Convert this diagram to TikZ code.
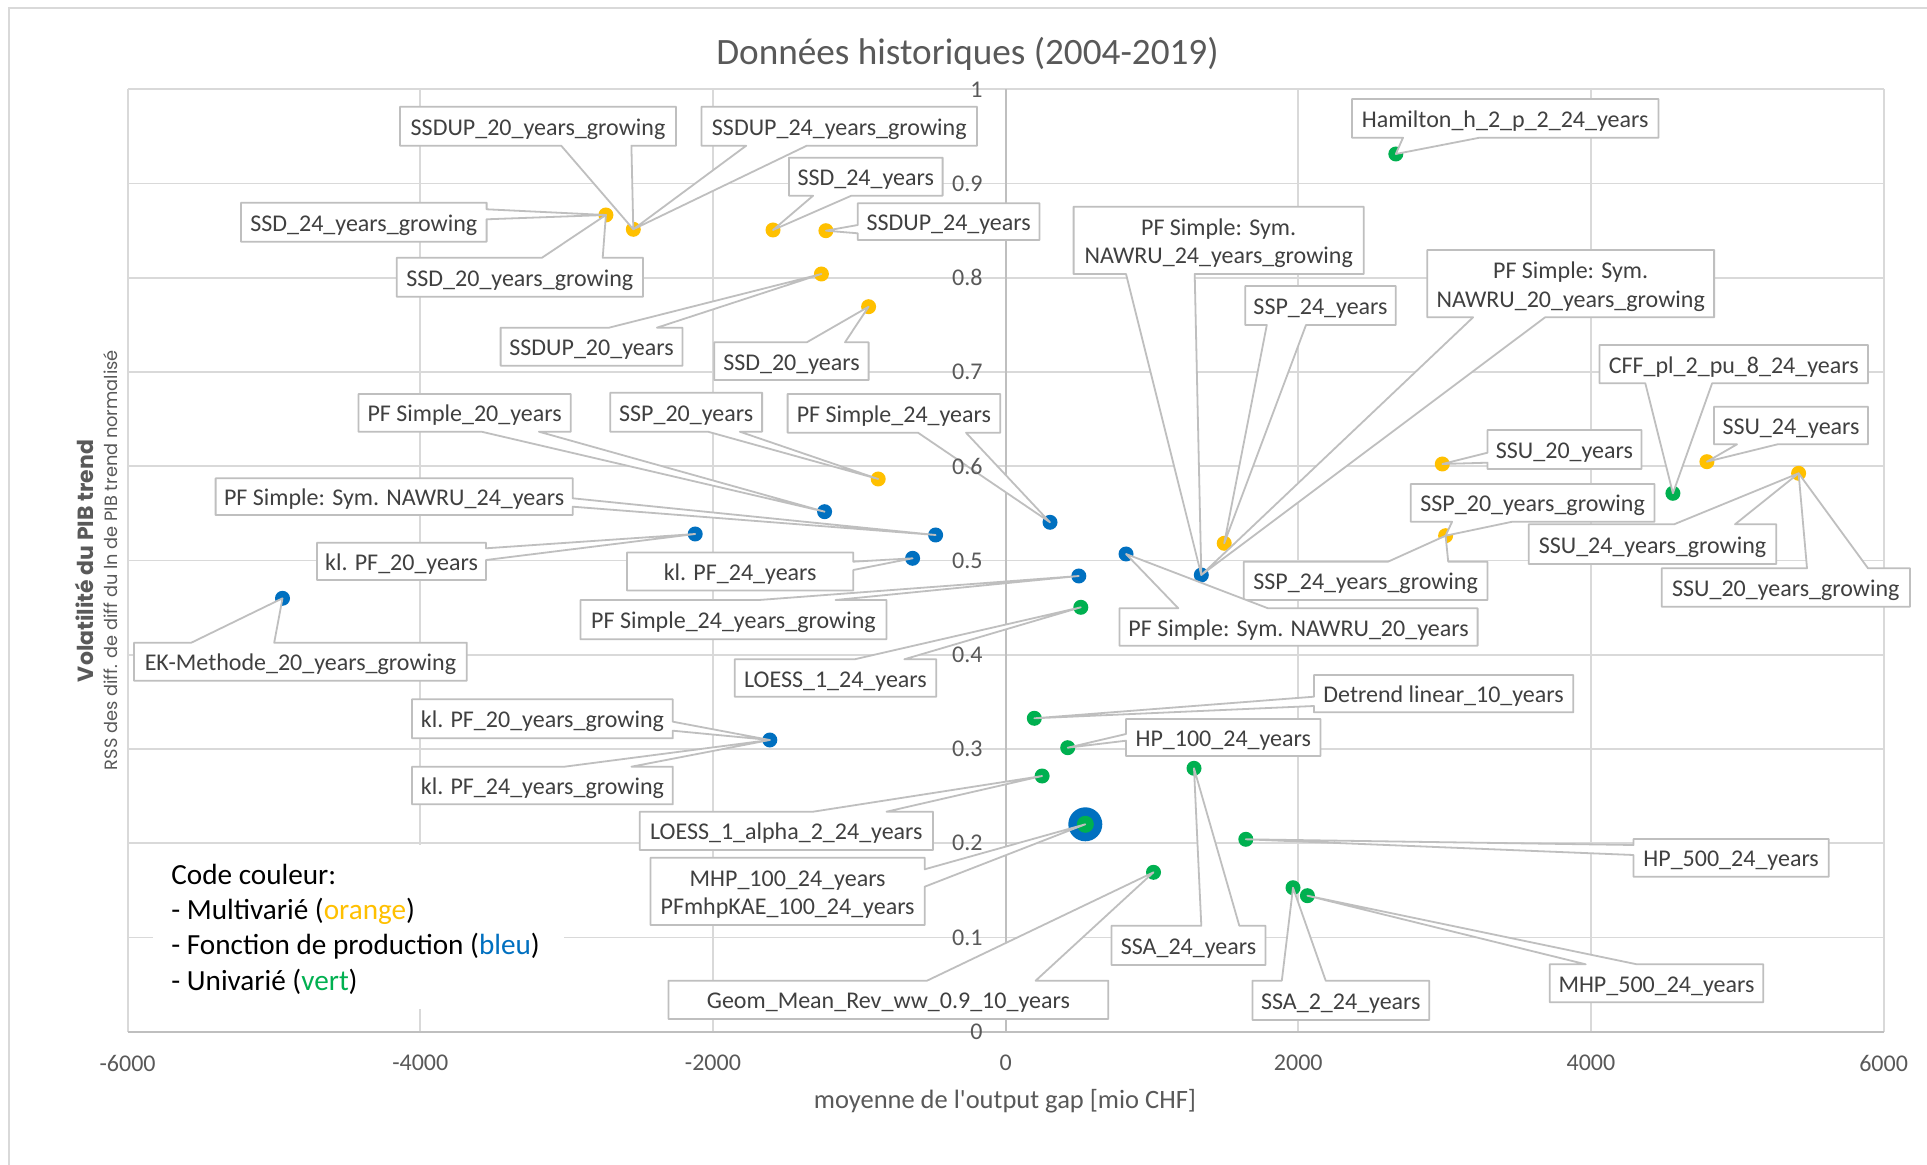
\documentclass[tikz,border=0pt]{standalone}
\usepackage{fontspec}
\usepackage{graphicx}
\setmainfont{Carlito}
\newfontfamily\popp{Poppins}
\definecolor{orng}{HTML}{FFC000}
\definecolor{blu}{HTML}{0070C0}
\definecolor{grn}{HTML}{00B050}
\definecolor{gridc}{HTML}{D9D9D9}
\definecolor{axc}{HTML}{BFBFBF}
\definecolor{txtc}{HTML}{595959}
\definecolor{lblc}{HTML}{404040}
\definecolor{callc}{HTML}{BFBFBF}
% callouts: {name}{x1}{y1}{x2}{y2}{a}{b}{tip}{text}
\newcommand\calB[9]{%
  \draw[callout] (#2,#3) -- (#4,#3) -- (#4,#5) -- (#7,#5) -- (#8) -- (#6,#5) -- (#2,#5) -- cycle;
  \node[lbl] (#1) at ({(#2+#4)/2},{(#3+#5)/2}) {#9};}
\newcommand\calT[9]{%
  \draw[callout] (#2,#3) -- (#6,#3) -- (#8) -- (#7,#3) -- (#4,#3) -- (#4,#5) -- (#2,#5) -- cycle;
  \node[lbl] (#1) at ({(#2+#4)/2},{(#3+#5)/2}) {#9};}
\newcommand\calL[9]{%
  \draw[callout] (#2,#3) -- (#4,#3) -- (#4,#5) -- (#2,#5) -- (#2,#7) -- (#8) -- (#2,#6) -- cycle;
  \node[lbl] (#1) at ({(#2+#4)/2},{(#3+#5)/2}) {#9};}
\newcommand\calR[9]{%
  \draw[callout] (#2,#3) -- (#4,#3) -- (#4,#6) -- (#8) -- (#4,#7) -- (#4,#5) -- (#2,#5) -- cycle;
  \node[lbl] (#1) at ({(#2+#4)/2},{(#3+#5)/2}) {#9};}
% two-line callouts
\newcommand\calBii[9]{%
  \draw[callout] (#2,#3) -- (#4,#3) -- (#4,#5) -- (#7,#5) -- (#8) -- (#6,#5) -- (#2,#5) -- cycle;
  \node[lbltwo] (#1) at ({(#2+#4)/2},{(#3+#5)/2}) {#9};}
\newcommand\calRii[9]{%
  \draw[callout] (#2,#3) -- (#4,#3) -- (#4,#6) -- (#8) -- (#4,#7) -- (#4,#5) -- (#2,#5) -- cycle;
  \node[lbltwo] (#1) at ({(#2+#4)/2},{(#3+#5)/2}) {#9};}
\begin{document}
\begin{tikzpicture}[x=0.5pt,y=-0.5pt,
  grid/.style={draw=gridc, line width=0.9pt},
  axisline/.style={draw=axc, line width=1pt},
  tick/.style={font=\fontsize{12}{14}\selectfont, text=txtc, inner sep=0pt},
  callout/.style={draw=callc, fill=white, line width=0.9pt, line join=round},
  lbl/.style={font=\fontsize{12}{14.2}\selectfont, text=lblc, inner sep=0pt, text height=9.6pt, text depth=0.5pt},
  lbltwo/.style={font=\fontsize{12}{14.2}\selectfont, text=lblc, align=center, inner sep=0pt, yshift=-1.5pt},
  leg/.style={font=\fontsize{14.6}{17}\selectfont, text=black, anchor=base west, inner sep=0pt},
  mk/.style={circle, inner sep=0pt, minimum size=7.5pt, draw=none},
  mo/.style={mk, fill=orng},
  mb/.style={mk, fill=blu},
  mg/.style={mk, fill=grn}]
\useasboundingbox (0,0) rectangle (1927,1165);
\fill[white] (0,0) rectangle (1927,1165);
\draw[gridc, line width=1pt] (9,1170) -- (9,8) -- (1932,8);
% grid
\foreach \k in {1,...,10} \draw[grid] (127.6,{1031.7-94.24*\k}) -- (1883.6,{1031.7-94.24*\k});
\foreach \xx in {127.6,420.3,712.9,1298.2,1590.9,1883.6} \draw[grid] (\xx,89.3) -- (\xx,1031.7);
\draw[axisline] (127.6,1031.7) -- (1883.6,1031.7);
\draw[axisline] (1005.6,89.3) -- (1005.6,1031.7);
\foreach \i/\t in {0/-6000,1/-4000,2/-2000,3/0,4/2000,5/4000,6/6000}
  \node[tick] (xt\i) at ({127.6+292.667*\i},1063) {\t};
% titles
\node[font=\fontsize{18.6}{22}\selectfont, text=txtc, anchor=base, inner sep=0pt] (title) at (967.5,65) {Données historiques (2004-2019)};
\node[font=\fontsize{13.25}{16}\selectfont, text=txtc, anchor=base, inner sep=0pt] (xtitle) at (1005,1108) {moyenne de l\textquotesingle output gap [mio CHF]};
\node[rotate=90, text=txtc, inner sep=0pt] (ytitle) at (84.5,561) {\resizebox{121pt}{!}{\popp\bfseries Volatilité du PIB trend}};
\node[rotate=90, text=txtc, inner sep=0pt] (ysub) at (111,560) {\resizebox{210pt}{!}{\popp RSS des diff. de diff du ln de PIB trend normalisé}};
% legend
\fill[white] (153,845) rectangle (564,1009);
\node[leg] (lg0) at (171,884) {Code couleur:};
\node[leg] (lg1) at (171,919.3) {- Multivarié (\textcolor{orng}{orange})};
\node[leg] (lg2) at (171,954.3) {- Fonction de production (\textcolor{blu}{bleu})};
\node[leg] (lg3) at (171,990) {- Univarié (\textcolor{grn}{vert})};
% markers orange
\node[mo] (pSSDg) at (605.9,215) {};
\node[mo] (pSSDUPg) at (633.3,229.3) {};
\node[mo] (pSSD24) at (773,230) {};
\node[mo] (pSSDUP24) at (825.9,230.7) {};
\node[mo] (pSSDUP20) at (821.4,274) {};
\node[mo] (pSSD20) at (868.6,306.7) {};
\node[mo] (pSSP20) at (878.2,479) {};
\node[mo] (pSSP24) at (1224.2,543.3) {};
\node[mo] (pSSU20) at (1442.3,464) {};
\node[mo] (pSSU24) at (1706.9,461.7) {};
\node[mo] (pSSUg) at (1798.6,473.3) {};
\node[mo] (pSSPg) at (1445.6,535.7) {};
% markers blue
\node[mb] (pPFS20) at (824.6,511.7) {};
\node[mb] (pNAWRU24) at (935.6,535) {};
\node[mb] (pklPF20) at (695.2,534) {};
\node[mb] (pklPF24) at (912.6,558.3) {};
\node[mb] (pPFS24) at (1050,522.3) {};
\node[mb] (pPFS24g) at (1078.8,576) {};
\node[mb] (pEK) at (282.5,598.3) {};
\node[mb] (pklPFg) at (769.8,740) {};
\node[mb] (pNAWRU20) at (1126,554) {};
\node[mb] (pNAWRUg) at (1201.3,575) {};
\node[circle, inner sep=0pt, minimum size=17pt, fill=blu] (pBig) at (1085.3,824.3) {};
% markers green
\node[mg] (pHam) at (1395.8,154) {};
\node[mg] (pCFF) at (1672.9,493.3) {};
\node[mg] (pLOESS1) at (1080.8,607.3) {};
\node[mg] (pDetrend) at (1034.3,718.3) {};
\node[mg] (pHP100) at (1067.7,747.7) {};
\node[mg] (pLOESSa) at (1042.1,776) {};
\node[mg, minimum size=8.5pt] (pMHP100) at (1085.3,824.3) {};
\node[mg] (pSSA24) at (1194,768.3) {};
\node[mg] (pHP500) at (1245.8,839.3) {};
\node[mg] (pGeom) at (1153.5,872.3) {};
\node[mg] (pSSA2) at (1293,887.7) {};
\node[mg] (pMHP500) at (1307.4,895.7) {};
% callouts, wedge at bottom
\calB{cSSDUPtwg}{400}{106.7}{676}{145.7}{561.2}{631.4}{pSSDUPg.center}{SSDUP\_20\_years\_growing}
\calB{cSSDUPtfg}{701.5}{106.7}{977}{145.7}{746.2}{806.8}{pSSDUPg.center}{SSDUP\_24\_years\_growing}
\calB{cSSD24}{788.9}{157.7}{942.6}{195.7}{813.1}{851.4}{pSSD24.center}{SSD\_24\_years}
\calB{cHam}{1351.9}{99}{1658.4}{137.7}{1403}{1479.6}{pHam.center}{Hamilton\_h\_2\_p\_2\_24\_years}
\calBii{cNAWRUtfg}{1073.6}{206.7}{1363.7}{274}{1126}{1194.7}{pNAWRUg.center}{PF Simple: Sym.\\NAWRU\_24\_years\_growing}
\calB{cSSP24}{1245.2}{286}{1395.8}{325}{1266.8}{1306}{pSSP24.center}{SSP\_24\_years}
\calBii{cNAWRUtwg}{1427.2}{250}{1714.1}{317.3}{1473.1}{1545.1}{pNAWRUg.center}{PF Simple: Sym.\\NAWRU\_20\_years\_growing}
\calB{cCFF}{1599.5}{345}{1868}{383.3}{1645.3}{1712.1}{pCFF.center}{CFF\_pl\_2\_pu\_8\_24\_years}
\calB{cPFS20}{358.4}{394}{570.8}{431.7}{481.5}{538.9}{pPFS20.center}{PF Simple\_20\_years}
\calB{cSSP20}{610.3}{392.7}{762.1}{431.7}{707.9}{739.8}{pSSP20.center}{SSP\_20\_years}
\calB{cPFS24}{787.6}{394}{1000.2}{432.7}{918}{966}{pPFS24.center}{PF Simple\_24\_years}
\calB{cSSU24}{1714}{406.7}{1868}{444.3}{1737}{1777.6}{pSSU24.center}{SSU\_24\_years}
\calB{cSSPtwg}{1410.8}{484}{1654.5}{521.7}{1452.1}{1512.4}{pSSPg.center}{SSP\_20\_years\_growing}
% wedge at top
\calT{cSSDtwg}{396.7}{257.7}{642.9}{296.7}{542}{602.7}{pSSDg.center}{SSD\_20\_years\_growing}
\calT{cSSDUP20}{500.6}{327.7}{682.4}{365.7}{609}{656.9}{pSSDUP20.center}{SSDUP\_20\_years}
\calT{cSSD20}{714.3}{342.3}{868.6}{380}{806.8}{845}{pSSD20.center}{SSD\_20\_years}
\calT{cPFS24g}{580.4}{600}{886.5}{639.3}{759}{835.5}{pPFS24g.center}{PF Simple\_24\_years\_growing}
\calT{cEK}{134}{642.7}{466.8}{680.7}{191.3}{274.2}{pEK.center}{EK-Methode\_20\_years\_growing}
\calT{cLOESS1}{734.7}{659.3}{936.2}{696.7}{854.6}{904.3}{pLOESS1.center}{LOESS\_1\_24\_years}
\calT{cklPFtfg}{412}{766.7}{672.8}{804.3}{564.4}{631.4}{pklPFg.center}{kl. PF\_24\_years\_growing}
\calT{cLOESSa}{639.7}{811.7}{933}{850}{813.1}{886.5}{pLOESSa.center}{LOESS\_1\_alpha\_2\_24\_years}
\calT{cGeom}{668.4}{980.7}{1108.3}{1019}{927}{1035.6}{pGeom.center}{Geom\_Mean\_Rev\_ww\_0.9\_10\_years}
\calT{cSSA24}{1111.5}{925.7}{1265.5}{965}{1201.3}{1239.3}{pSSA24.center}{SSA\_24\_years}
\calT{cSSA2}{1252.4}{980.7}{1429.2}{1020}{1281.8}{1325.7}{pSSA2.center}{SSA\_2\_24\_years}
\calT{cMHP500}{1549.7}{964.3}{1763.2}{1002.3}{1585.7}{1636.8}{pMHP500.center}{MHP\_500\_24\_years}
\calT{cSSPtfg}{1243.8}{561.7}{1487.5}{600}{1388}{1448.2}{pSSPg.center}{SSP\_24\_years\_growing}
\calT{cSSUtfg}{1528.7}{524.3}{1776.3}{564}{1674.1}{1735}{pSSUg.center}{SSU\_24\_years\_growing}
\calT{cSSUtwg}{1661.7}{568.3}{1909.9}{606.7}{1807}{1868}{pSSUg.center}{SSU\_20\_years\_growing}
\calT{cNAWRU20}{1119.4}{608.3}{1477.6}{645.7}{1178.3}{1268}{pNAWRU20.center}{PF Simple: Sym. NAWRU\_20\_years}
% wedge at left
\calL{cSSDUP24}{857.8}{203.3}{1039.5}{240}{225}{233.3}{pSSDUP24.center}{SSDUP\_24\_years}
\calL{cSSU20}{1487.5}{430}{1641.4}{469}{452.7}{462.7}{pSSU20.center}{SSU\_20\_years}
\calL{cDetrend}{1313.9}{675}{1573.3}{712.3}{696.7}{706}{pDetrend.center}{Detrend linear\_10\_years}
\calL{cHP100}{1126}{719}{1320.5}{756}{734}{740.7}{pHP100.center}{HP\_100\_24\_years}
\calL{cHP500}{1633.5}{839}{1828.7}{876.7}{845}{855}{pHP500.center}{HP\_500\_24\_years}
% wedge at right
\calR{cSSDtfg}{241}{202.7}{486.6}{241.7}{209.3}{219.3}{pSSDg.center}{SSD\_24\_years\_growing}
\calR{cNAWRU24}{215.6}{478.3}{572.7}{515}{498.3}{506.7}{pNAWRU24.center}{PF Simple: Sym. NAWRU\_24\_years}
\calR{cklPF20}{317}{542.7}{486}{580}{548.3}{560}{pklPF20.center}{kl. PF\_20\_years}
\calR{cklPF24}{627}{552.5}{853.3}{590.5}{561.7}{570}{pklPF24.center}{kl. PF\_24\_years}
\calR{cklPFtwg}{412}{699.3}{672.8}{738.3}{721.7}{730.7}{pklPFg.center}{kl. PF\_20\_years\_growing}
\calRii{cMHP}{650.5}{857.7}{924.7}{925}{869.3}{886.7}{pMHP100.center}{MHP\_100\_24\_years\\PFmhpKAE\_100\_24\_years}
% y tick labels on top
\foreach \k/\t in {0/0,1/0.1,2/0.2,3/0.3,4/0.4,5/0.5,6/0.6,7/0.7,8/0.8,9/0.9,10/1}
  \node[tick, anchor=east] (yt\k) at (983,{1031.7-94.24*\k}) {\t};
\end{tikzpicture}
\end{document}
